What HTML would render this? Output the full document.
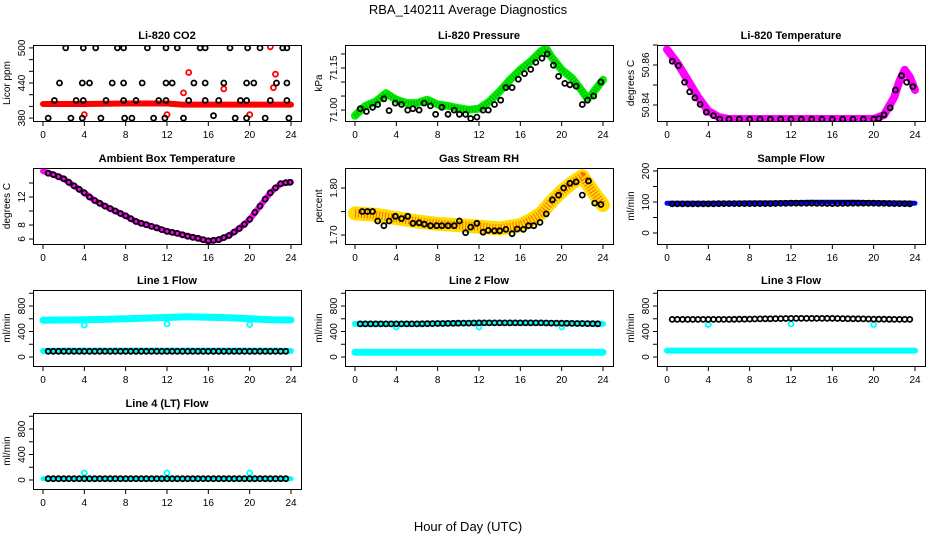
<!DOCTYPE html>
<html><head><meta charset="utf-8">
<style>
html,body{margin:0;padding:0;background:#fff;}
svg{display:block;font-family:"Liberation Sans",Arial,sans-serif;}
</style></head>
<body>
<svg id="chart" width="936" height="540" viewBox="0 0 936 540">
<text x="468" y="14" text-anchor="middle" font-size="13">RBA_140211  Average Diagnostics</text>
<text x="468" y="531" text-anchor="middle" font-size="13">Hour of Day (UTC)</text>
</svg>
<script>
// ---- data ----
const xTicks = [0,4,8,12,16,20,24];

const co2BlackHours = [2.2,3.9,5.1,7.2,7.8,10.1,11.9,13.0,15.2,15.7,18.1,19.8,21.0,23.2,23.6,
  1.6,3.8,4.5,6.7,7.8,9.6,11.9,12.5,14.6,15.7,17.5,19.7,20.4,22.6,23.6,
  1.1,3.2,3.9,6.1,7.8,9.0,11.2,11.9,14.1,15.7,17.0,19.1,19.7,22.0,23.6,
  0.5,2.7,3.8,5.6,7.9,8.6,10.7,11.8,13.6,16.5,18.6,19.7,21.5,23.8];
const co2BlackValues = [500,500,500,500,500,500,500,500,500,500,500,500,500,500,500,
  440,440,440,440,440,440,440,440,440,440,440,440,440,440,440,
  410,410,410,410,410,410,410,410,410,410,410,410,410,410,410,
  380,380,380,380,380,380,380,380,380,384,380,380,380,380];
const co2BandHours = [0,4,8,12,13.5,16,20,24];
const co2BandValues = [404,404,405,405,403,403,403,403];
const co2RedHours = [4.0,12.0,13.6,14.1,17.5,20.0,22.0,22.3,22.5];
const co2RedValues = [386,386,423,458,430,386,502,432,455];

const presBandHours = [0,1,2,3,4,5,6,7,8,9,10,11,12,13,14,15,16,17,18,18.5,19,20,21,22,22.5,23,24];
const presBandValues = [70.98,71.015,71.03,71.06,71.037,71.025,71.025,71.037,71.02,71.015,71.007,71.001,71.005,71.03,71.067,71.108,71.144,71.174,71.21,71.22,71.19,71.144,71.114,71.067,71.04,71.06,71.108];
const presBlackHours = [0.5,1.1,1.7,2.2,2.8,3.3,3.9,4.5,5.1,5.6,6.2,6.7,7.3,7.8,8.4,9.0,9.6,10.1,10.7,11.2,11.8,12.4,12.9,13.5,14.1,14.6,15.2,15.8,16.4,17.0,17.5,18.1,18.6,19.2,19.7,20.3,20.8,21.4,22.0,22.5,23.1,23.8];
const presBlackValues = [71.005,70.995,71.01,71.02,71.04,70.998,71.025,71.02,71.0,71.005,71.0,71.025,71.015,70.985,71.01,70.985,71.0,70.985,70.985,70.97,70.975,71.0,71.0,71.02,71.035,71.08,71.08,71.11,71.13,71.145,71.17,71.185,71.2,71.16,71.12,71.095,71.09,71.085,71.02,71.035,71.05,71.1];

const tempBandHours = [0,1,2,3,4,5,6,10,14,18,20,21,22,22.5,23,23.5,24];
const tempBandValues = [50.8678,50.861,50.8525,50.844,50.837,50.834,50.833,50.833,50.833,50.833,50.833,50.835,50.844,50.852,50.8576,50.854,50.8475];
const tempBlackHours = [0.5,1.1,1.7,2.2,2.7,3.2,3.8,4.5,5.1,6,7,8,9,10,11,12,13,14,15,16,17,18,19,20,20.5,21.0,21.6,22.1,22.7,23.2,23.8];
const tempBlackValues = [50.8619,50.8597,50.8514,50.8466,50.8436,50.8403,50.8364,50.8347,50.8329,50.8329,50.8329,50.8329,50.8329,50.8329,50.8329,50.8329,50.8329,50.8329,50.8329,50.8329,50.8329,50.8329,50.8329,50.8329,50.8332,50.8351,50.8386,50.8475,50.8547,50.8514,50.8492];

const ambHours = [0,1,2,3,4,5,6,7,8,9,10,11,12,13,14,15,16,17,18,19,20,21,22,23,24];
const ambBandValues = [15.7,15.2,14.6,13.6,12.6,11.5,10.7,10.0,9.3,8.5,8.05,7.6,7.1,6.8,6.4,6.1,5.7,5.9,6.5,7.5,8.8,10.7,12.6,13.9,14.1];
const ambBlackHours = [0.5,1,1.5,2,2.5,3,3.5,4,4.5,5,5.5,6,6.5,7,7.5,8,8.5,9,9.5,10,10.5,11,11.5,12,12.5,13,13.5,14,14.5,15,15.5,16,16.5,17,17.5,18,18.5,19,19.5,20,20.5,21,21.5,22,22.5,23,23.5,23.9];
const ambBlackValues = [15.4,15.2,14.9,14.6,14.1,13.6,13.1,12.6,12.0,11.5,11.1,10.7,10.35,10.0,9.65,9.3,8.9,8.5,8.25,8.05,7.8,7.6,7.35,7.1,6.95,6.8,6.6,6.4,6.25,6.1,5.9,5.75,5.8,5.9,6.2,6.5,7.0,7.5,8.1,8.8,9.8,10.7,11.7,12.6,13.3,13.9,14.05,14.1];

const rhBandHours = [0,2,4,6,8,10,12,14,16,17,18,19,20,21,22,23,24];
const rhBandValues = [1.746,1.743,1.736,1.729,1.724,1.721,1.718,1.714,1.721,1.732,1.746,1.771,1.793,1.811,1.825,1.793,1.764];
const rhBlackHours = [0.7,1.2,1.7,2.2,2.8,3.3,3.9,4.5,5.1,5.6,6.2,6.7,7.3,7.9,8.4,9.0,9.6,10.1,10.7,11.2,11.8,12.4,12.9,13.5,14.0,14.6,15.2,15.7,16.3,16.8,17.3,17.9,18.5,19.1,19.7,20.2,20.8,21.4,22.0,22.6,23.2,23.8];
const rhBlackValues = [1.75,1.75,1.75,1.73,1.72,1.73,1.74,1.735,1.74,1.725,1.726,1.723,1.72,1.72,1.72,1.72,1.72,1.73,1.705,1.717,1.725,1.706,1.71,1.709,1.709,1.712,1.703,1.713,1.712,1.72,1.72,1.727,1.745,1.775,1.785,1.80,1.81,1.813,1.785,1.815,1.768,1.765];

const flatHours = [0,2,4,6,8,10,12,14,16,18,20,22,24];
const sampleBandValues = [96,96,96,96,97,97,98,99,99,99,98,97,96];
const sampleBlackValues = [94,94,94,95,95,95,96,96,95,96,96,95,94];

const line1HighValues = [575,580,585,590,600,610,620,630,625,615,600,585,580];
const line1LowValues = [95,100,100,100,100,100,100,100,100,100,100,100,95];
const line1BlackValues = [90,90,90,90,90,90,90,90,90,90,90,90,90];
const line2HighValues = [520,520,520,520,525,530,535,535,535,535,530,525,520];
const line2LowValues = [75,75,75,75,75,75,75,75,75,75,75,75,75];
const line2BlackValues = [520,520,520,520,525,530,535,535,535,535,530,525,520];
const line3LowValues = [100,100,100,100,100,100,100,100,100,100,100,100,100];
const line3BlackValues = [590,590,590,590,595,600,605,605,605,600,595,590,590];
const line4BandValues = [20,20,20,20,20,20,20,20,20,20,20,20,20];
const line4BlackValues = [20,20,20,20,20,20,20,20,20,20,20,20,20];
const outlierHours = [4,12,20];
const line1OutVals = [500,520,510];
const line2OutVals = [470,470,470];
const line3OutVals = [510,520,510];
const line4OutVals = [110,110,110];

// ---- drawing ----
const NS = 'http://www.w3.org/2000/svg';
const svg = document.getElementById('chart');
function mk(tag, attrs, parent){const e=document.createElementNS(NS,tag);for(const k in attrs)e.setAttribute(k,attrs[k]);(parent||svg).appendChild(e);return e;}

const colLeft=[33,345,657], rowTop=[45,168,290,413], W=268, H=76;
function halfHours(){const a=[];for(let h=0.5;h<=23.9;h+=0.5)a.push(h);return a;}
const hh = halfHours();
function interpFlat(vals,h){
  const i=Math.min(Math.floor(h/2),vals.length-2);const t=(h-flatHours[i])/2;return vals[i]*(1-t)+vals[i+1]*t;}

function panel(cfg){
  const L=colLeft[cfg.col], T=rowTop[cfg.row];
  const g=mk('g',{});
  
  
  const X=h=>L+10+h*(248/24);
  const Y=v=>T+H-(v-cfg.ymin)/(cfg.ymax-cfg.ymin)*H;
  const t=mk('text',{x:L+W/2,y:T-6,'text-anchor':'middle','font-size':11,'font-weight':'bold'},g);
  t.textContent=cfg.title;
  
  
  const yt=mk('text',{x:0,y:0,'text-anchor':'middle','font-size':10,transform:`translate(${L-23},${T+H/2}) rotate(-90)`},g);
  yt.textContent=cfg.ylab;
  
  
  const cid='c'+cfg.row+cfg.col;
  const cp=mk('clipPath',{id:cid},g);mk('rect',{x:L,y:T,width:W,height:H},cp);
  const plot=mk('g',{'clip-path':`url(#${cid})`},g);
  cfg.series.forEach(s=>{
    if(s.type==='band'){
      const d=s.hours.map((h,i)=>(i?'L':'M')+X(h).toFixed(1)+','+Y(s.values[i]).toFixed(1)).join(' ');
      const p=mk('path',{d:d,fill:'none',stroke:s.color,'stroke-width':s.width,'stroke-linejoin':'round','stroke-linecap':'round'},plot);
      
      
      if(s.inner){mk('path',{d:d,fill:'none',stroke:s.inner,'stroke-width':s.width*0.6,'stroke-dasharray':'1 2','stroke-linejoin':'round'},plot);}
    } else {
      s.hours.forEach((h,i)=>{
        const c=mk('circle',{cx:X(h).toFixed(1),cy:Y(s.values[i]).toFixed(1),r:2.5,fill:'none',stroke:s.color,'stroke-width':1.8},plot);
        
        
      });
    }
  });
  const b=mk('rect',{x:L+0.5,y:T+0.5,width:W,height:H,fill:'none',stroke:'#000','stroke-width':1},g);
  
  
  xTicks.forEach(v=>{
    const x=X(v);
    mk('line',{x1:x,y1:T+H+0.5,x2:x,y2:T+H+5,stroke:'#000'},g);
    const tl=mk('text',{x:x,y:T+H+17,'text-anchor':'middle','font-size':10},g);
    tl.textContent=v;
    
    
  });
  cfg.yticks.forEach(v=>{
    const y=Y(v);
    mk('line',{x1:L+0.5,y1:y,x2:L-4,y2:y,stroke:'#000'},g);
  });
  cfg.ylabels.forEach((lab,i)=>{
    const y=Y(cfg.ylabelVals[i]);
    const tl=mk('text',{x:0,y:0,'text-anchor':'middle','font-size':10,transform:`translate(${L-8},${y}) rotate(-90)`},g);
    tl.textContent=lab;
    
    
  });
}

const flowTicks=[0,200,400,600,800,1000];
function flowPanel(row,col,name,title,series){
  panel({row,col,name,title,ylab:'ml/min',ymin:-141,ymax:1051,yticks:flowTicks,ylabels:['0','400','800'],ylabelVals:[0,400,800],series});
}
const hhVals=vals=>hh.map(h=>interpFlat(vals,h));

panel({row:0,col:0,name:'co2-panel',title:'Li-820 CO2',ylab:'Licor ppm',ymin:375,ymax:505,
  yticks:[380,400,420,440,460,480,500],ylabels:['380','440','500'],ylabelVals:[380,440,500],
  series:[{type:'band',name:'co2-band',hours:co2BandHours,values:co2BandValues,color:'#ff0000',width:6},
          {type:'pts',name:'co2-red-point',hours:co2RedHours,values:co2RedValues,color:'#ff0000'},
          {type:'pts',name:'co2-black-point',hours:co2BlackHours,values:co2BlackValues,color:'#000'}]});
panel({row:0,col:1,name:'pressure-panel',title:'Li-820 Pressure',ylab:'kPa',ymin:70.961,ymax:71.232,
  yticks:[71.00,71.05,71.10,71.15,71.20],ylabels:['71.00','71.15'],ylabelVals:[71.00,71.15],
  series:[{type:'band',name:'pressure-band',hours:presBandHours,values:presBandValues,color:'#00ee00',width:8,inner:'#00aa00'},
          {type:'pts',name:'pressure-point',hours:presBlackHours,values:presBlackValues,color:'#000'}]});
panel({row:0,col:2,name:'temperature-panel',title:'Li-820 Temperature',ylab:'degrees C',ymin:50.832,ymax:50.87,
  yticks:[50.84,50.85,50.86,50.87],ylabels:['50.84','50.86'],ylabelVals:[50.84,50.86],
  series:[{type:'band',name:'temperature-band',hours:tempBandHours,values:tempBandValues,color:'#ff00ff',width:8},
          {type:'pts',name:'temperature-point',hours:tempBlackHours,values:tempBlackValues,color:'#000'}]});
panel({row:1,col:0,name:'ambient-panel',title:'Ambient Box Temperature',ylab:'degrees C',ymin:5.29,ymax:16.14,
  yticks:[6,8,10,12,14],ylabels:['6','8','12'],ylabelVals:[6,8,12],
  series:[{type:'band',name:'ambient-band',hours:ambHours,values:ambBandValues,color:'#ff00ff',width:6},
          {type:'pts',name:'ambient-point',hours:ambBlackHours,values:ambBlackValues,color:'#000'}]});
panel({row:1,col:1,name:'rh-panel',title:'Gas Stream RH',ylab:'percent',ymin:1.681,ymax:1.8426,
  yticks:[1.70,1.75,1.80],ylabels:['1.70','1.80'],ylabelVals:[1.70,1.80],
  series:[{type:'band',name:'rh-band',hours:rhBandHours,values:rhBandValues,color:'#ffdd00',width:14,inner:'#ff6600'},
          {type:'pts',name:'rh-point',hours:rhBlackHours,values:rhBlackValues,color:'#000'}]});
panel({row:1,col:2,name:'sample-flow-panel',title:'Sample Flow',ylab:'ml/min',ymin:-35.5,ymax:209.7,
  yticks:[0,50,100,150,200],ylabels:['0','100','200'],ylabelVals:[0,100,200],
  series:[{type:'band',name:'sample-band',hours:flatHours,values:sampleBandValues,color:'#0000ff',width:5},
          {type:'pts',name:'sample-point',hours:hh,values:hhVals(sampleBlackValues),color:'#000'}]});
flowPanel(2,0,'line1-panel','Line 1 Flow',[
  {type:'band',name:'line1-high-band',hours:flatHours,values:line1HighValues,color:'#00ffff',width:7},
  {type:'band',name:'line1-low-band',hours:flatHours,values:line1LowValues,color:'#00ffff',width:6},
  {type:'pts',name:'line1-outlier',hours:outlierHours,values:line1OutVals,color:'#00ffff'},
  {type:'pts',name:'line1-point',hours:hh,values:hhVals(line1BlackValues),color:'#000'}]);
flowPanel(2,1,'line2-panel','Line 2 Flow',[
  {type:'band',name:'line2-high-band',hours:flatHours,values:line2HighValues,color:'#00ffff',width:6},
  {type:'band',name:'line2-low-band',hours:flatHours,values:line2LowValues,color:'#00ffff',width:7},
  {type:'pts',name:'line2-outlier',hours:outlierHours,values:line2OutVals,color:'#00ffff'},
  {type:'pts',name:'line2-point',hours:hh,values:hhVals(line2BlackValues),color:'#000'}]);
flowPanel(2,2,'line3-panel','Line 3 Flow',[
  {type:'band',name:'line3-low-band',hours:flatHours,values:line3LowValues,color:'#00ffff',width:6},
  {type:'pts',name:'line3-outlier',hours:outlierHours,values:line3OutVals,color:'#00ffff'},
  {type:'pts',name:'line3-point',hours:hh,values:hhVals(line3BlackValues),color:'#000'}]);
flowPanel(3,0,'line4-panel','Line 4 (LT) Flow',[
  {type:'band',name:'line4-band',hours:flatHours,values:line4BandValues,color:'#00ffff',width:5},
  {type:'pts',name:'line4-outlier',hours:outlierHours,values:line4OutVals,color:'#00ffff'},
  {type:'pts',name:'line4-point',hours:hh,values:hhVals(line4BlackValues),color:'#000'}]);
</script>
</body></html>
